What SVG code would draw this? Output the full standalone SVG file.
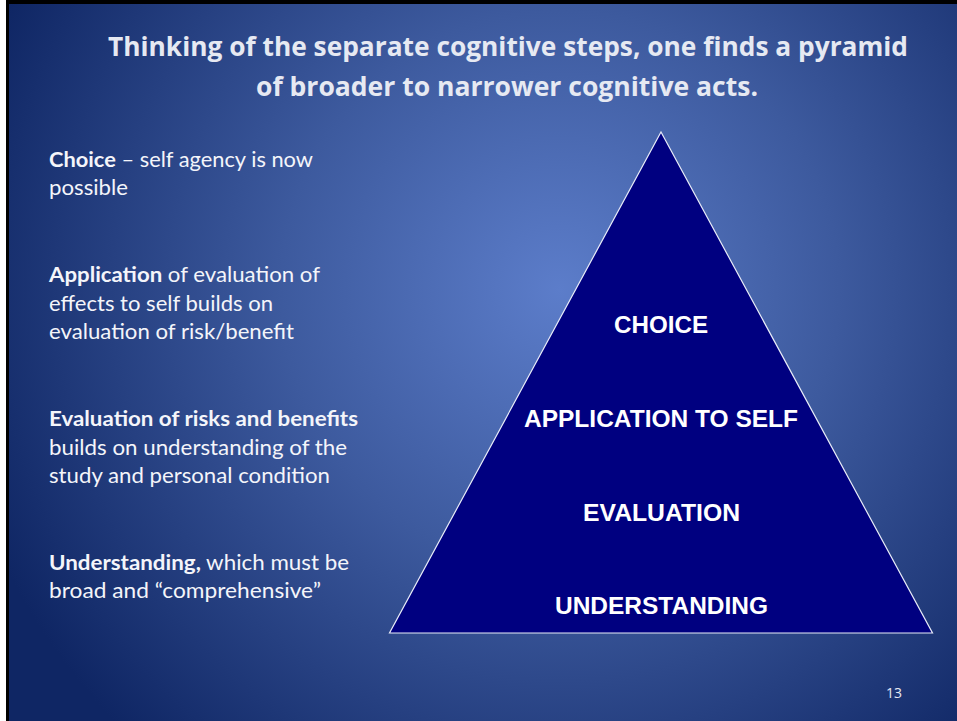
<svg xmlns="http://www.w3.org/2000/svg" width="957" height="721" viewBox="0 0 957 721">
<defs>
<radialGradient id="bg" gradientUnits="userSpaceOnUse" cx="560" cy="290" r="620">
<stop offset="0" stop-color="#5c7dca"/>
<stop offset="0.45" stop-color="#3d5a9e"/>
<stop offset="1" stop-color="#0f2664"/>
</radialGradient>
<style>
.title{font-family:"Open Sans","Liberation Sans",sans-serif;font-weight:bold;font-size:27px;fill:#e6e9f2;text-anchor:middle}
.body{font-family:Lato,"Liberation Sans",sans-serif;font-size:21px;fill:#f4f5fa}
.b{font-weight:bold}
.lvl{font-family:"Liberation Sans",Arial,sans-serif;font-weight:bold;font-size:24px;fill:#ffffff;text-anchor:middle}
.pg{font-family:"Open Sans","Liberation Sans",sans-serif;font-size:14px;fill:#e6e9f2}
</style>
</defs>
<rect x="0" y="0" width="957" height="721" fill="#ffffff"/>
<rect x="6" y="0" width="951" height="721" fill="#000000"/>
<rect x="9" y="4" width="948" height="717" fill="url(#bg)"/>
<g id="title">
<text class="title" x="508" y="56" textLength="800" lengthAdjust="spacingAndGlyphs">Thinking of the separate cognitive steps, one finds a pyramid</text>
<text class="title" x="507" y="96" textLength="502" lengthAdjust="spacingAndGlyphs">of broader to narrower cognitive acts.</text>
</g>
<g id="descriptions">
<text class="body" x="49" y="167" textLength="264" lengthAdjust="spacingAndGlyphs"><tspan class="b">Choice</tspan> – self agency is now</text>
<text class="body" x="49" y="195" textLength="79" lengthAdjust="spacingAndGlyphs">possible</text>
<text class="body" x="49" y="282" textLength="271" lengthAdjust="spacingAndGlyphs"><tspan class="b">Application</tspan> of evaluation of</text>
<text class="body" x="49" y="311" textLength="224" lengthAdjust="spacingAndGlyphs">effects to self builds on</text>
<text class="body" x="49" y="339" textLength="245" lengthAdjust="spacingAndGlyphs">evaluation of risk/benefit</text>
<text class="body" x="49" y="426" textLength="309" lengthAdjust="spacingAndGlyphs"><tspan class="b">Evaluation of risks and benefits</tspan></text>
<text class="body" x="49" y="455" textLength="298" lengthAdjust="spacingAndGlyphs">builds on understanding of the</text>
<text class="body" x="49" y="483" textLength="281" lengthAdjust="spacingAndGlyphs">study and personal condition</text>
<text class="body" x="49" y="570" textLength="300" lengthAdjust="spacingAndGlyphs"><tspan class="b">Understanding,</tspan> which must be</text>
<text class="body" x="49" y="598" textLength="272" lengthAdjust="spacingAndGlyphs">broad and “comprehensive”</text>
</g>
<g id="pyramid">
<polygon points="661,132 932.5,633 389.5,633" fill="#000080" stroke="#e8ecf8" stroke-width="1.2" stroke-linejoin="miter"/>
<text class="lvl" x="661" y="333" textLength="94" lengthAdjust="spacingAndGlyphs">CHOICE</text>
<text class="lvl" x="661" y="427" textLength="274" lengthAdjust="spacingAndGlyphs">APPLICATION TO SELF</text>
<text class="lvl" x="661.5" y="521" textLength="157" lengthAdjust="spacingAndGlyphs">EVALUATION</text>
<text class="lvl" x="661.5" y="614" textLength="213" lengthAdjust="spacingAndGlyphs">UNDERSTANDING</text>
</g>
<text class="pg" x="886" y="698">13</text>
</svg>
